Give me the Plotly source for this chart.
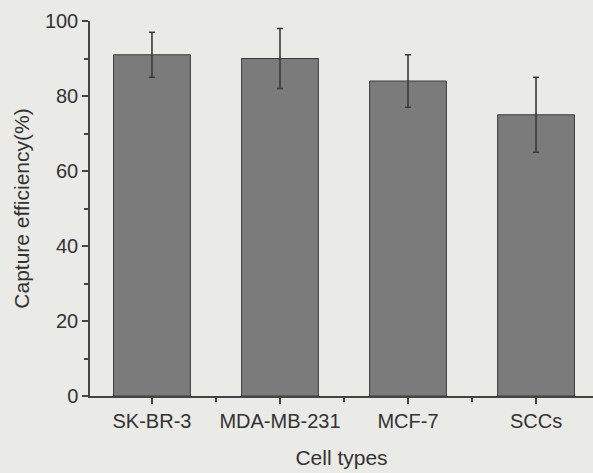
import plotly.graph_objects as go

categories = ["SK-BR-3", "MDA-MB-231", "MCF-7", "SCCs"]
efficiency = [91, 90, 84, 75]
errors = [6, 8, 7, 10]
y_ticks = [0, 20, 40, 60, 80, 100]

xpos = list(range(len(categories)))

fig = go.Figure()
fig.add_trace(go.Bar(
    x=xpos, y=efficiency, width=0.6,
    marker=dict(color="#7b7b7b", line=dict(color="#3c3c3c", width=1)),
    error_y=dict(type="data", array=errors, visible=True, color="#3a3a3a",
                 thickness=1.6, width=3),
))

tick_font = dict(family="Liberation Sans, Arial, sans-serif", size=20, color="#333333")
title_font = dict(family="Liberation Sans, Arial, sans-serif", size=21, color="#333333")
fig.update_layout(
    width=593, height=473,
    margin=dict(l=90, r=0, t=21, b=77),
    paper_bgcolor="#eaeae6", plot_bgcolor="#eaeae6",
    showlegend=False,
    font=tick_font,
    xaxis=dict(
        range=[-0.484, 3.445], tickvals=xpos, ticktext=categories,
        showgrid=False, zeroline=False, showline=True, linecolor="#444444", linewidth=1.5,
        ticks="outside", ticklen=6, tickwidth=1.5, tickcolor="#444444",
        minor=dict(ticks="outside", ticklen=4, tickwidth=1.5, tickcolor="#444444",
                   tick0=0.5, dtick=1, showgrid=False),
        title=dict(text="Cell types", standoff=20, font=title_font),
        tickfont=tick_font,
    ),
    yaxis=dict(
        range=[0, 100], tickvals=y_ticks,
        showgrid=False, zeroline=False, showline=True, linecolor="#444444", linewidth=1.5,
        ticks="outside", ticklen=6, tickwidth=1.5, tickcolor="#444444",
        minor=dict(ticks="outside", ticklen=4, tickwidth=1.5, tickcolor="#444444",
                   tick0=10, dtick=20, showgrid=False),
        title=dict(text="Capture efficiency(%)", standoff=10, font=title_font),
        tickfont=tick_font,
    ),
)

fig.write_html(
    "out.html",
    config={"displayModeBar": False},
    post_script="document.body.style.margin='0';document.body.style.background='#eaeae6';",
)
